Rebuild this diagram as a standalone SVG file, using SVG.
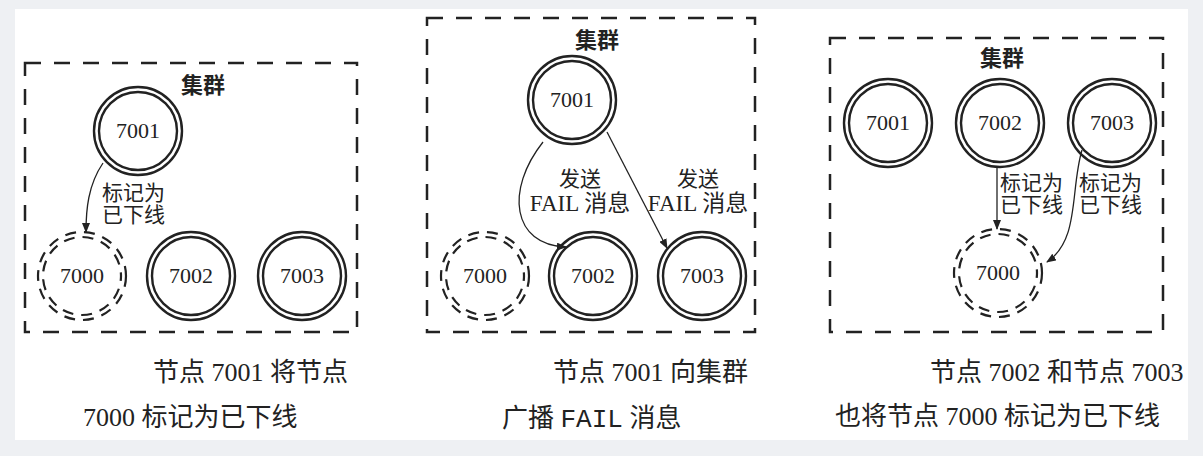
<svg xmlns="http://www.w3.org/2000/svg" width="1203" height="456" viewBox="0 0 1203 456">
<defs>
<marker id="ah" markerWidth="10" markerHeight="8" refX="9" refY="4" orient="auto" markerUnits="userSpaceOnUse">
<path d="M0,0 L10,4 L0,8 Z" fill="#222"/>
</marker>
</defs>
<style>
.bg{fill:#eef0f3}
.panel{fill:#ffffff}
.frame{fill:none;stroke:#222;stroke-width:2.5;stroke-dasharray:16 13}
.ring{fill:none;stroke:#222;stroke-width:2.4}
.dring{fill:none;stroke:#222;stroke-width:2.2;stroke-dasharray:11 8}
.t{font-family:"Liberation Serif","Noto Sans CJK SC",serif;fill:#222}
.num{font-size:22px;text-anchor:middle}
.lbl{font-size:21px}
.mid{text-anchor:middle}
.title{font-size:22px;font-weight:bold;text-anchor:middle}
.cap{font-size:26px}
.mono{font-family:"Liberation Mono","Noto Sans CJK SC",monospace}
.conn{fill:none;stroke:#222;stroke-width:1.3;marker-end:url(#ah)}
</style>
<rect class="bg" x="0" y="0" width="1203" height="456"/>
<rect class="panel" x="15" y="9" width="1173" height="431"/>

<!-- Panel 1 -->
<g id="p1-cluster">
<rect class="frame" x="25" y="63" width="332" height="269"/>
<text class="t title" x="203" y="93">集群</text>
</g>
<g id="p1-n7001"><circle class="ring" cx="138" cy="131" r="44"/><circle class="ring" cx="138" cy="131" r="39"/><text class="t num" x="138" y="138">7001</text></g>
<g id="p1-n7000"><circle class="dring" cx="82" cy="276" r="44"/><circle class="dring" cx="82" cy="276" r="39" stroke-dashoffset="6"/><text class="t num" x="82" y="283">7000</text></g>
<g id="p1-n7002"><circle class="ring" cx="191" cy="276" r="44"/><circle class="ring" cx="191" cy="276" r="39"/><text class="t num" x="191" y="283">7002</text></g>
<g id="p1-n7003"><circle class="ring" cx="302" cy="276" r="44"/><circle class="ring" cx="302" cy="276" r="39"/><text class="t num" x="302" y="283">7003</text></g>
<g id="p1-captions">
<text class="t cap" x="153" y="381">节点 7001 将节点</text>
<text class="t cap" x="83" y="426">7000 标记为已下线</text>
</g>

<!-- Panel 2 -->
<g id="p2-cluster">
<rect class="frame" x="427" y="18" width="328" height="314"/>
<text class="t title" x="597" y="48">集群</text>
</g>
<g id="p2-n7001"><circle class="ring" cx="572" cy="100" r="44"/><circle class="ring" cx="572" cy="100" r="39"/><text class="t num" x="572" y="107">7001</text></g>
<g id="p2-n7000"><circle class="dring" cx="485" cy="276" r="44"/><circle class="dring" cx="485" cy="276" r="39" stroke-dashoffset="6"/><text class="t num" x="485" y="283">7000</text></g>
<g id="p2-n7002"><circle class="ring" cx="593" cy="276" r="44"/><circle class="ring" cx="593" cy="276" r="39"/><text class="t num" x="593" y="283">7002</text></g>
<g id="p2-n7003"><circle class="ring" cx="702" cy="276" r="44"/><circle class="ring" cx="702" cy="276" r="39"/><text class="t num" x="702" y="283">7003</text></g>
<g id="p2-captions">
<text class="t cap" x="553" y="381">节点 7001 向集群</text>
<text class="t cap" x="502" y="427">广播 <tspan class="mono">FAIL</tspan> 消息</text>
</g>

<!-- Panel 3 -->
<g id="p3-cluster">
<rect class="frame" x="830" y="38" width="333" height="294"/>
<text class="t title" x="1002" y="66">集群</text>
</g>
<g id="p3-n7001"><circle class="ring" cx="888" cy="123" r="44"/><circle class="ring" cx="888" cy="123" r="39"/><text class="t num" x="888" y="130">7001</text></g>
<g id="p3-n7002"><circle class="ring" cx="1000" cy="123" r="44"/><circle class="ring" cx="1000" cy="123" r="39"/><text class="t num" x="1000" y="130">7002</text></g>
<g id="p3-n7003"><circle class="ring" cx="1112" cy="123" r="44"/><circle class="ring" cx="1112" cy="123" r="39"/><text class="t num" x="1112" y="130">7003</text></g>
<g id="p3-n7000"><circle class="dring" cx="998" cy="273" r="44"/><circle class="dring" cx="998" cy="273" r="39" stroke-dashoffset="6"/><text class="t num" x="998" y="280">7000</text></g>
<g id="p3-captions">
<text class="t cap" x="930" y="381">节点 7002 和节点 7003</text>
<text class="t cap" x="835" y="425">也将节点 7000 标记为已下线</text>
</g>

<g id="connectors">
<path class="conn" d="M103,163 C88,185 86,210 86,232"/>
<text class="t lbl" x="102" y="200">标记为<tspan x="102" dy="22">已下线</tspan></text>

<path class="conn" d="M543,142 C505,190 512,245 566,247"/>
<path class="conn" d="M607,132 L667,248"/>
<text class="t lbl mid" x="580" y="186">发送<tspan x="580" dy="25" font-size="23">FAIL 消息</tspan></text>
<text class="t lbl mid" x="698" y="186">发送<tspan x="698" dy="25" font-size="23">FAIL 消息</tspan></text>

<path class="conn" d="M997,168 L997,229"/>
<path class="conn" d="M1082,150 C1070,190 1080,240 1047,262"/>
<text class="t lbl" x="1000" y="190">标记为<tspan x="1000" dy="22">已下线</tspan></text>
<text class="t lbl" x="1079" y="190">标记为<tspan x="1079" dy="22">已下线</tspan></text>
</g>
</svg>
